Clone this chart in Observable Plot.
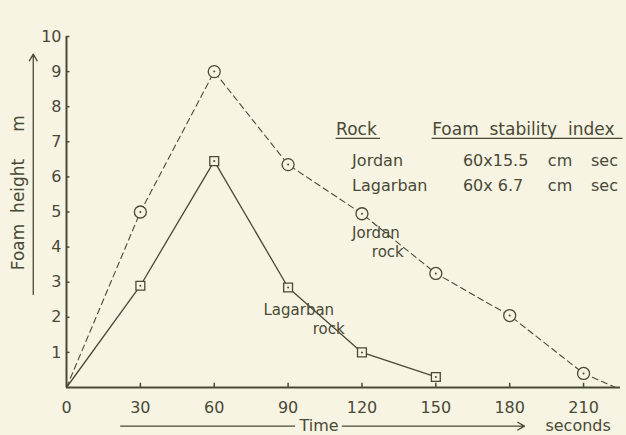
<!DOCTYPE html>
<html><head><meta charset="utf-8">
<script src="https://cdn.jsdelivr.net/npm/d3@7"></script>
<script src="https://cdn.jsdelivr.net/npm/@observablehq/plot@0.6"></script>
<style>
html,body{margin:0;padding:0;background:#f7f4e3;}
</style>
</head><body>
<div id="chart"></div>
<script>
const times = [0, 30, 60, 90, 120, 150, 180, 210];
const jordanTime = [0, 30, 60, 90, 120, 150, 180, 210, 223];
const jordanHeight = [0, 5.0, 9.0, 6.35, 4.95, 3.25, 2.05, 0.4, 0];
const lagarbanTime = [0, 30, 60, 90, 120, 150];
const lagarbanHeight = [0, 2.9, 6.45, 2.85, 1.0, 0.3];
const xTicks = [0, 30, 60, 90, 120, 150, 180, 210];
const yTicks = [1, 2, 3, 4, 5, 6, 7, 8, 9, 10];

const ink = "#4a4936";
const bg = "#f7f4e3";
const font = "DejaVu Sans";

const jordan = jordanTime.map((t, i) => ({t, h: jordanHeight[i]}));
const jordanPts = jordan.filter(d => d.t > 0 && d.t <= 210);
const lagarban = lagarbanTime.map((t, i) => ({t, h: lagarbanHeight[i]}));
const lagarbanPts = lagarban.filter(d => d.t > 0);

const legendRows = [
  {x: 116, y: 6.45, text: "Jordan"}, {x: 161, y: 6.45, text: "60x15.5"},
  {x: 195.5, y: 6.45, text: "cm"}, {x: 213, y: 6.45, text: "sec"},
  {x: 116, y: 5.75, text: "Lagarban"}, {x: 161, y: 5.75, text: "60x 6.7"},
  {x: 195.5, y: 5.75, text: "cm"}, {x: 213, y: 5.75, text: "sec"}
];
const legendHead = [
  {x: 109.5, y: 7.35, text: "Rock"}, {x: 148.5, y: 7.35, text: "Foam  stability  index"}
];
const notes = [
  {x: 116, y: 4.4, text: "Jordan"}, {x: 124, y: 3.85, text: "rock"},
  {x: 80, y: 2.2, text: "Lagarban"}, {x: 100, y: 1.65, text: "rock"}
];

const plot = Plot.plot({
  width: 626, height: 435,
  marginLeft: 66, marginRight: 6, marginTop: 36, marginBottom: 48,
  style: {background: bg, color: ink, fontFamily: font, fontSize: "16px"},
  x: {domain: [0, 225], ticks: xTicks, tickSize: 0, tickPadding: 14, label: null},
  y: {domain: [0, 10], ticks: yTicks, tickSize: 0, tickPadding: 5, label: null},
  marks: [
    Plot.ruleY([0], {x1: 0, x2: 225, stroke: ink, strokeWidth: 2}),
    Plot.ruleX([0], {y1: 0, y2: 10, stroke: ink, strokeWidth: 2}),
    Plot.ruleX(xTicks.slice(1), {y1: 0, y2: 0.12, stroke: ink, strokeWidth: 1.5}),
    Plot.ruleY(yTicks, {x1: 0, x2: 1.4, stroke: ink, strokeWidth: 1.5}),
    Plot.line(jordan, {x: "t", y: "h", stroke: ink, strokeWidth: 1.1, strokeDasharray: "6,4"}),
    Plot.line(lagarban, {x: "t", y: "h", stroke: ink, strokeWidth: 1.3}),
    Plot.dot(jordanPts, {x: "t", y: "h", r: 6, stroke: ink, fill: bg, strokeWidth: 1.3}),
    Plot.dot(lagarbanPts, {x: "t", y: "h", r: 5, symbol: "square", stroke: ink, fill: bg, strokeWidth: 1.3}),
    Plot.dot(jordanPts.concat(lagarbanPts), {x: "t", y: "h", r: 1, fill: ink}),
    Plot.text(legendRows, {x: "x", y: "y", text: "text", textAnchor: "start", fill: ink, fontSize: 16}),
    Plot.text(legendHead, {x: "x", y: "y", text: "text", textAnchor: "start", fill: ink, fontSize: 17}),
    Plot.ruleY([7.1], {x1: 109.5, x2: 127.5, stroke: ink, strokeWidth: 1.2}),
    Plot.ruleY([7.1], {x1: 148.5, x2: 226, stroke: ink, strokeWidth: 1.2}),
    Plot.text(notes, {x: "x", y: "y", text: "text", textAnchor: "start", fill: ink, fontSize: 15}),
    Plot.text(["Foam  height     m"], {x: -19.5, y: 5.55, rotate: -90, fill: ink, fontSize: 17}),
    Plot.arrow([{x: -13.5, y1: 2.65, y2: 9.5}], {x1: "x", x2: "x", y1: "y1", y2: "y2", stroke: ink, strokeWidth: 1.3, headLength: 9}),
    Plot.ruleY([-1.1], {x1: 22, x2: 93, stroke: ink, strokeWidth: 1.3}),
    Plot.arrow([{x1: 112, x2: 186, y: -1.1}], {x1: "x1", x2: "x2", y1: "y", y2: "y", stroke: ink, strokeWidth: 1.3, headLength: 9}),
    Plot.text(["Time"], {x: 102.6, y: -1.1, fill: ink, fontSize: 16}),
    Plot.text(["seconds"], {x: 194.5, y: -1.1, textAnchor: "start", fill: ink, fontSize: 16})
  ]
});
document.getElementById("chart").appendChild(plot);
</script>
</body></html>
